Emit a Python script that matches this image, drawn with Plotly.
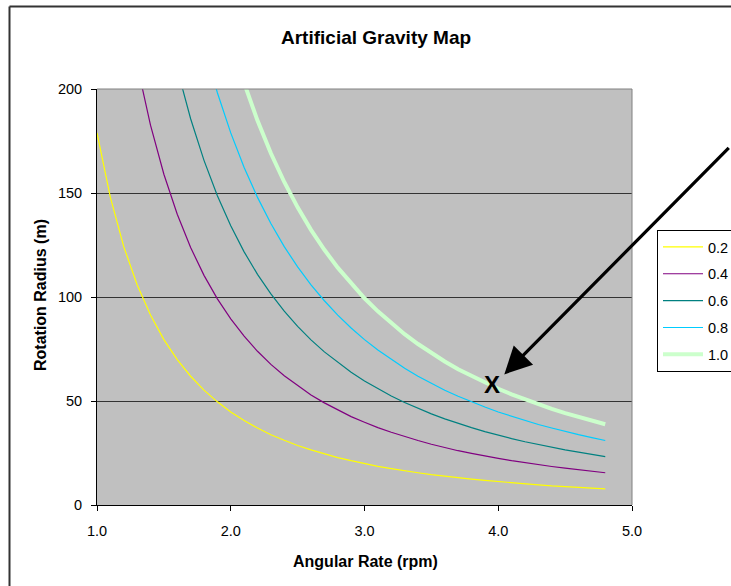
import plotly.graph_objects as go

rpm = [1.0, 1.1, 1.2, 1.3, 1.4, 1.5, 1.6, 1.7, 1.8, 1.9, 2.0, 2.1, 2.2, 2.3, 2.4, 2.5, 2.6, 2.7, 2.8, 2.9,
       3.0, 3.1, 3.2, 3.3, 3.4, 3.5, 3.6, 3.7, 3.8, 3.9, 4.0, 4.1, 4.2, 4.3, 4.4, 4.5, 4.6, 4.7, 4.8]

g_02 = [178.9, 147.9, 124.2, 105.9, 91.3, 79.5, 69.9, 61.9, 55.2, 49.6, 44.7, 40.6, 37.0, 33.8, 31.1, 28.6,
        26.5, 24.5, 22.8, 21.3, 19.9, 18.6, 17.5, 16.4, 15.5, 14.6, 13.8, 13.1, 12.4, 11.8, 11.2, 10.6,
        10.1, 9.7, 9.2, 8.8, 8.5, 8.1, 7.8]
g_04 = [357.8, 295.7, 248.5, 211.7, 182.6, 159.0, 139.8, 123.8, 110.4, 99.1, 89.5, 81.2, 73.9, 67.6, 62.1,
        57.3, 52.9, 49.1, 45.6, 42.5, 39.8, 37.2, 35.0, 32.9, 31.0, 29.2, 27.6, 26.1, 24.8, 23.5, 22.4,
        21.3, 20.3, 19.4, 18.5, 17.7, 16.9, 16.2, 15.5]
g_06 = [536.7, 443.6, 372.7, 317.6, 273.8, 238.6, 209.6, 185.7, 165.7, 148.7, 134.2, 121.7, 110.9, 101.5,
        93.2, 85.9, 79.4, 73.6, 68.5, 63.8, 59.6, 55.9, 52.4, 49.3, 46.4, 43.8, 41.4, 39.2, 37.2, 35.3,
        33.5, 31.9, 30.4, 29.0, 27.7, 26.5, 25.4, 24.3, 23.3]
g_08 = [715.7, 591.4, 497.0, 423.5, 365.1, 318.1, 279.5, 247.6, 220.9, 198.2, 178.9, 162.3, 147.9, 135.3,
        124.2, 114.5, 105.8, 98.2, 91.3, 85.1, 79.5, 74.5, 69.9, 65.7, 61.9, 58.4, 55.2, 52.3, 49.6, 47.1,
        44.7, 42.6, 40.6, 38.7, 37.0, 35.3, 33.8, 32.4, 31.0]
g_10 = [894.6, 739.3, 621.2, 529.3, 456.4, 397.6, 349.4, 309.5, 276.1, 247.8, 223.6, 202.9, 184.8, 169.1,
        155.3, 143.1, 132.3, 122.7, 114.1, 106.4, 99.4, 93.1, 87.4, 82.1, 77.4, 73.0, 69.0, 65.3, 62.0,
        58.8, 55.9, 53.2, 50.7, 48.4, 46.2, 44.2, 42.3, 40.5, 38.8]

series_names = ["0.2", "0.4", "0.6", "0.8", "1.0"]
series_values = [g_02, g_04, g_06, g_08, g_10]
series_colors = ["#FFFF00", "#800080", "#008080", "#00CCFF", "#CCFFCC"]
series_widths = [1.2, 1.2, 1.2, 1.2, 4]

x_ticks = [1.0, 2.0, 3.0, 4.0, 5.0]
x_ticklabels = ["1.0", "2.0", "3.0", "4.0", "5.0"]
y_ticks = [0, 50, 100, 150, 200]

marker_x, marker_y = 3.953, 57.9
arrow_tip_x, arrow_tip_y = 4.045, 62.8

FONT = "Liberation Sans, Arial, sans-serif"

fig = go.Figure()
for name, vals, col, w in zip(series_names, series_values, series_colors, series_widths):
    fig.add_trace(go.Scatter(x=rpm, y=vals, mode="lines", name=name, legendgroup=name,
                             line=dict(color=col, width=w)))

W, H = 731, 586
L, R, T, B = 97, 99, 89, 81
pw, ph = W - L - R, H - T - B

def px_x(p):
    return (p - L) / pw

def px_y(p):
    return (H - B - p) / ph

fig.update_layout(
    width=W, height=H,
    margin=dict(l=L, r=R, t=T, b=B, autoexpand=False),
    paper_bgcolor="white",
    plot_bgcolor="#C0C0C0",
    font=dict(family=FONT, size=14.5, color="black"),
    showlegend=True,
    legend=dict(x=px_x(657), y=px_y(230), xanchor="left", yanchor="top",
                bordercolor="black", borderwidth=1, bgcolor="white",
                font=dict(size=14.5, family=FONT, color="black"),
                tracegroupgap=5, itemwidth=40),
    xaxis=dict(range=[1, 5], tickvals=x_ticks, ticktext=x_ticklabels, showgrid=False,
               zeroline=False, showline=True, linecolor="black", linewidth=1,
               ticks="outside", ticklen=5, tickcolor="black", ticklabelstandoff=8,
               tickfont=dict(size=14.5, family=FONT, color="black")),
    yaxis=dict(range=[0, 200], tickvals=y_ticks, showgrid=True, gridcolor="#333333", gridwidth=1,
               zeroline=False, showline=True, linecolor="black", linewidth=1,
               ticks="outside", ticklen=5, tickcolor="black", ticklabelstandoff=6,
               tickfont=dict(size=14.5, family=FONT, color="black")),
)

# title and axis titles
fig.add_annotation(x=px_x(376), y=px_y(37), xref="paper", yref="paper", showarrow=False,
                   text="<b>Artificial Gravity Map</b>", xanchor="center", yanchor="middle",
                   font=dict(size=19, family=FONT, color="black"))
fig.add_annotation(x=px_x(365), y=px_y(561), xref="paper", yref="paper", showarrow=False,
                   text="<b>Angular Rate (rpm)</b>", xanchor="center", yanchor="middle",
                   font=dict(size=16, family=FONT, color="black"))
fig.add_annotation(x=px_x(40), y=px_y(295), xref="paper", yref="paper", showarrow=False,
                   text="<b>Rotation Radius (m)</b>", textangle=-90, xanchor="center", yanchor="middle",
                   font=dict(size=16, family=FONT, color="black"))

# plot frame top/right in gray
fig.add_shape(type="line", xref="paper", yref="paper", x0=0, x1=1, y0=1, y1=1,
              line=dict(color="#808080", width=1))
fig.add_shape(type="line", xref="paper", yref="paper", x0=1, x1=1, y0=0, y1=1,
              line=dict(color="#808080", width=1))
# outer chart border (top and left visible)
fig.add_shape(type="line", xref="paper", yref="paper",
              x0=px_x(9.5), x1=px_x(760), y0=px_y(6.5), y1=px_y(6.5),
              line=dict(color="#333333", width=2))
fig.add_shape(type="line", xref="paper", yref="paper",
              x0=px_x(9.5), x1=px_x(9.5), y0=px_y(6.5), y1=px_y(640),
              line=dict(color="#333333", width=2))

fig.add_annotation(x=marker_x, y=marker_y, xref="x", yref="y", text="<b>X</b>", showarrow=False,
                   font=dict(size=24, family=FONT, color="black"))
fig.add_annotation(x=arrow_tip_x, y=arrow_tip_y, xref="x", yref="y", text="", showarrow=True,
                   ax=226, ay=-228, axref="pixel", ayref="pixel",
                   arrowhead=2, arrowsize=1.7, arrowwidth=3.2, arrowcolor="black")

fig.write_html("out.html")
